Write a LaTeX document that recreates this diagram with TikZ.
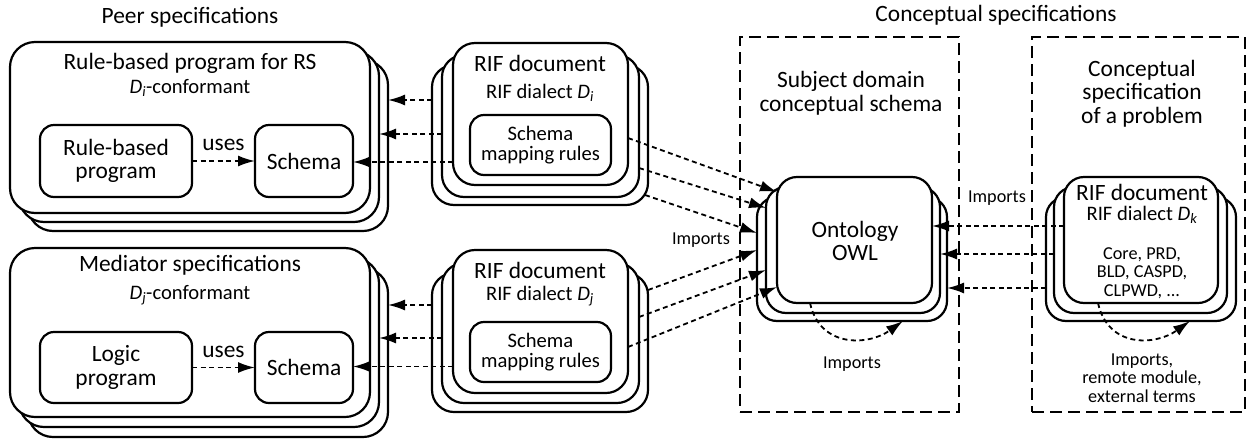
\documentclass[tikz,border=0pt]{standalone}
\usepackage{fontspec}
\setmainfont{Carlito}
\usetikzlibrary{arrows.meta}

\begin{document}
\begin{tikzpicture}[x=1pt, y=-1pt,
	big/.style={font=\fontsize{23.4}{23.5}\selectfont, align=center, inner sep=1pt},
	mid/.style={font=\fontsize{20.6}{20}\selectfont, align=center, inner sep=1pt},
	small/.style={font=\fontsize{18.2}{18.5}\selectfont, align=center, inner sep=1pt},
	layer/.style={draw, line width=2.2pt, fill=white, rounded corners=22pt, inner sep=0pt, outer sep=0pt},
	inbox/.style={draw, line width=2.2pt, rounded corners=14pt, inner sep=0pt, outer sep=0pt},
	frame/.style={draw, line width=2pt, dash pattern=on 12pt off 6pt, inner sep=0pt, outer sep=0pt},
	imp/.style={line width=1.8pt, dash pattern=on 5pt off 3.5pt, -{Latex[length=17pt,width=11pt]}}]
	\useasboundingbox (0,0) rectangle (1248,440);

	\node[big] (peer) at (190,17) {Peer specifications};
	\node[big] (concept) at (996,15) {Conceptual specifications};
	\node[frame, minimum width=219pt, minimum height=375pt] (subj) at (849.5,224.5) {};
	\node[frame, minimum width=213pt, minimum height=375pt] (cprob) at (1138.5,224.5) {};

	\node[layer, rounded corners=25pt, minimum width=360pt, minimum height=171pt] (prog3) at (208,145.5) {};
	\node[layer, rounded corners=25pt, minimum width=360pt, minimum height=171pt] (prog2) at (199,136.5) {};
	\node[layer, rounded corners=25pt, minimum width=360pt, minimum height=171pt] (prog) at (190,127.5) {};
	\node[big] (progt) at (190,63) {Rule-based program for RS};
	\node[mid] (progc) at (190,88) {\textit{D\textsubscript{i}}-conformant};
	\node[inbox, big, minimum width=152pt, minimum height=72pt] (rbp) at (116,161) {Rule-based\\program};
	\node[inbox, big, minimum width=98pt, minimum height=72pt] (sch1) at (304,161) {Schema};
	\draw[imp] (rbp) -- node[above=8pt, big] {uses} (sch1);

	\node[layer, rounded corners=25pt, minimum width=360pt, minimum height=169pt] (med3) at (208,352.5) {};
	\node[layer, rounded corners=25pt, minimum width=360pt, minimum height=169pt] (med2) at (199,342.5) {};
	\node[layer, rounded corners=25pt, minimum width=360pt, minimum height=169pt] (med) at (190,332.5) {};
	\node[big] (medt) at (190,265) {Mediator specifications};
	\node[mid] (medc) at (190,295) {\textit{D\textsubscript{j}}-conformant};
	\node[inbox, big, minimum width=152pt, minimum height=71pt] (logic) at (116,367.5) {Logic\\program};
	\node[inbox, big, minimum width=98pt, minimum height=71pt] (sch2) at (304,367.5) {Schema};
	\draw[imp] (logic) -- node[above=8pt, big] {uses} (sch2);

	\node[layer, minimum width=216pt, minimum height=140pt] (rifi3) at (540,135) {};
	\node[layer, minimum width=197pt, minimum height=142pt] (rifi2) at (540.5,126) {};
	\node[layer, minimum width=175pt, minimum height=142pt] (rifi) at (540.5,114) {};
	\node[big] (rifit) at (540,63) {RIF document};
	\node[mid] (rifid) at (540,93) {RIF dialect \textit{D\textsubscript{i}}};
	\node[inbox, mid, minimum width=141pt, minimum height=60pt] (map1) at (540.5,145) {Schema\\mapping rules};

	\node[layer, minimum width=216pt, minimum height=139pt] (rifj3) at (540,342.5) {};
	\node[layer, minimum width=197pt, minimum height=140pt] (rifj2) at (540.5,333) {};
	\node[layer, minimum width=175pt, minimum height=143pt] (rifj) at (540.5,321.5) {};
	\node[big] (rifjt) at (540,270) {RIF document};
	\node[mid] (rifjd) at (540,296) {RIF dialect \textit{D\textsubscript{j}}};
	\node[inbox, mid, minimum width=141pt, minimum height=60pt] (map2) at (540.5,352) {Schema\\mapping rules};

	\node[big] (subjt) at (851,93.5) {Subject domain\\conceptual schema};
	\node[layer, rounded corners=20pt, minimum width=190pt, minimum height=124pt] (onto3) at (852,259) {};
	\node[layer, rounded corners=20pt, minimum width=174pt, minimum height=126pt] (onto2) at (853,250) {};
	\node[layer, rounded corners=20pt, minimum width=155pt, minimum height=126pt] (onto) at (854.5,240) {};
	\node[big] (ontot) at (855,241) {Ontology\\OWL};

	\node[big] (cprobt) at (1142,93.5) {Conceptual\\specification\\of a problem};
	\node[layer, rounded corners=20pt, minimum width=190pt, minimum height=124pt] (rifk3) at (1141,259) {};
	\node[layer, rounded corners=20pt, minimum width=173pt, minimum height=126pt] (rifk2) at (1140.5,250) {};
	\node[layer, rounded corners=20pt, minimum width=154pt, minimum height=126pt] (rifk) at (1141,240) {};
	\node[big] (rifkt) at (1142,192) {RIF document};
	\node[mid] (rifkd) at (1142,215) {RIF dialect \textit{D\textsubscript{k}}};
	\node[small] (rifkl) at (1142,273) {Core, PRD,\\BLD, CASPD,\\CLPWD, ...};

	\draw[imp] ([yshift=35pt]rifi3.west) coordinate (i1) -- (i1 -| prog3.east);
	\draw[imp] ([yshift=-8pt]rifi2.west) coordinate (i2) -- (i2 -| prog2.east);
	\draw[imp] ([yshift=-48pt]rifi.west) coordinate (i3) -- (i3 -| sch1.east);
	\draw[imp] ([yshift=37.5pt]rifj3.west) coordinate (j1) -- (j1 -| med3.east);
	\draw[imp] ([yshift=-5pt]rifj2.west) coordinate (j2) -- (j2 -| med2.east);
	\draw[imp] ([yshift=-45pt]rifj.west) coordinate (j3) -- (j3 -| sch2.east);

	\draw[imp] ([yshift=-24pt]rifi.east) -- ([yshift=48pt]onto.west);
	\draw[imp] ([yshift=-42pt]rifi2.east) -- ([yshift=42pt]onto2.west);
	\draw[imp] ([xshift=-3pt,yshift=-60pt]rifi3.east) -- ([yshift=26pt]onto3.west);
	\draw[imp] ([yshift=52.5pt]rifj3.east) -- ([yshift=9pt]onto3.west);
	\draw[imp] ([yshift=16pt]rifj2.east) -- ([yshift=-20pt]onto2.west);
	\draw[imp] ([yshift=-25.5pt]rifj.east) -- ([yshift=-47pt]onto.west);
	\node[small] (imp1) at (701,240) {Imports};

	\draw[imp] ([yshift=14pt]rifk.west) coordinate (k1) -- (k1 -| onto.east);
	\draw[imp] ([yshift=-4pt]rifk2.west) coordinate (k2) -- (k2 -| onto2.east);
	\draw[imp] ([yshift=-29pt]rifk3.west) coordinate (k3) -- (k3 -| onto3.east);
	\node[small] (imp2) at (997,198) {Imports};

	\draw[imp] ([xshift=-44.5pt]onto.south) .. controls +(10,45) and +(-35,25) .. ([xshift=51pt]onto3.south);
	\node[small] (imp3) at (852,364) {Imports};
	\draw[imp] ([xshift=-43pt]rifk.south) .. controls +(10,45) and +(-35,25) .. ([xshift=49pt]rifk3.south);
	\node[small] (imp4) at (1142,378) {Imports,\\remote module,\\external terms};
\end{tikzpicture}
\end{document}
